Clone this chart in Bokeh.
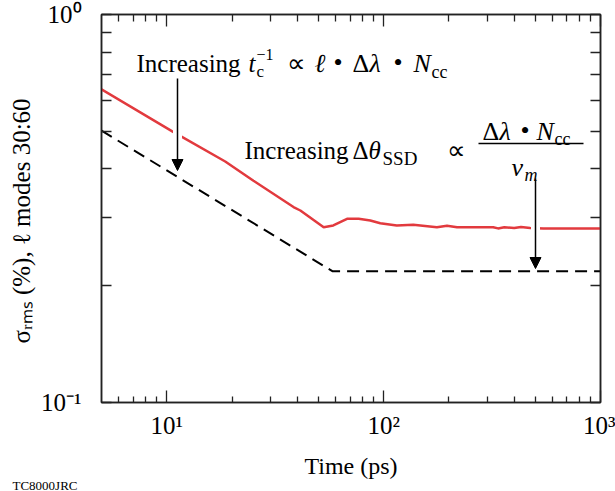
import math
from bokeh.plotting import figure
from bokeh.models import Range1d, LogAxis, FixedTicker, Label, Arrow, NormalHead, Title
from bokeh.embed import file_html
from bokeh.resources import INLINE

# ---------------- data ----------------
time_sim = [5.0, 10.6, 18.6, 25.1, 38.4, 41.3, 52.9, 58.6, 67.8, 76.7, 86.8, 96.5,
            115, 137, 176, 196, 218, 320, 337, 360, 400, 430, 474, 545, 1000]
sigma_sim = [0.641, 0.500, 0.418, 0.373, 0.319, 0.3125, 0.283, 0.286, 0.2975, 0.2975,
             0.2944, 0.2898, 0.2858, 0.287, 0.283, 0.2855, 0.283, 0.283, 0.281, 0.283,
             0.2815, 0.2835, 0.2818, 0.281, 0.281]
time_model = [5.0, 58.0, 1000.0]
sigma_model = [0.502, 0.218, 0.218]

x_major = [10, 100, 1000]
x_minor = [6, 7, 8, 9, 20, 30, 40, 50, 60, 70, 80, 90, 200, 300, 400, 500, 600, 700, 800, 900]
y_major = [0.1, 1.0]
y_minor = [0.2, 0.3, 0.4, 0.5, 0.6, 0.7, 0.8, 0.9]
x_tick_labels = ["10\u00b9", "10\u00b2", "10\u00b3"]
y_tick_labels = ["10\u207b\u00b9", "10\u2070"]
x_title = "Time (ps)"
y_title = "\u03c3\u1d63\u2098\u209b (%), \u2113 modes 30:60\u00a0\u00a0\u00a0\u00a0"
credit = "TC8000JRC"

XLO, XHI = 5.0, 1000.0
YLO, YHI = 0.1, 1.0

# frame in canvas pixels
FX0, FX1, FY0, FY1 = 101, 600, 14, 402
W, H = 615, 491
FONT = "Liberation Serif"

p = figure(width=W, height=H, x_axis_type="log", y_axis_type="log",
           x_range=Range1d(XLO, XHI), y_range=Range1d(YLO, YHI),
           output_backend="svg", toolbar_location=None,
           min_border_left=FX0, min_border_right=W - FX1,
           min_border_top=FY0, min_border_bottom=H - FY1)
p.grid.visible = False
p.background_fill_color = "white"
p.border_fill_color = "white"
p.outline_line_color = "#222222"
p.outline_line_width = 1.5


def px2x(px):
    lo, hi = math.log10(XLO), math.log10(XHI)
    return 10 ** (lo + (px - FX0) / (FX1 - FX0) * (hi - lo))


def py2y(py):
    lo, hi = math.log10(YLO), math.log10(YHI)
    return 10 ** (lo + (FY1 - py) / (FY1 - FY0) * (hi - lo))


def style_axis(ax, ticks, minors, major_in, minor_in, labels=None, standoff=0):
    ax.ticker = FixedTicker(ticks=ticks, minor_ticks=minors)
    ax.major_tick_in = major_in
    ax.major_tick_out = 0
    ax.minor_tick_in = minor_in
    ax.minor_tick_out = 0
    ax.axis_line_color = "#222222"
    ax.axis_line_width = 1.5
    ax.major_tick_line_color = "#222222"
    ax.major_tick_line_width = 1.3
    ax.minor_tick_line_color = "#222222"
    ax.minor_tick_line_width = 1.3
    if labels is None:
        ax.major_label_text_font_size = "2px"
        ax.major_label_text_alpha = 0.0
        ax.major_label_standoff = 0
    else:
        ax.major_label_overrides = {float(t): s for t, s in zip(ticks, labels)}
        ax.major_label_text_font = FONT
        ax.major_label_text_font_size = "25px"
        ax.major_label_text_color = "black"
        ax.major_label_standoff = standoff


xa = p.xaxis[0]
style_axis(xa, x_major, x_minor, 12, 6, x_tick_labels, 9)
xa.axis_label = x_title
xa.axis_label_text_font = FONT
xa.axis_label_text_font_size = "24px"
xa.axis_label_text_font_style = "normal"
xa.axis_label_text_color = "black"
xa.axis_label_standoff = 11

ya = p.yaxis[0]
style_axis(ya, y_major, y_minor, 10, 10, y_tick_labels, 20)
ya.axis_label = y_title
ya.axis_label_text_font = FONT
ya.axis_label_text_font_size = "25px"
ya.axis_label_text_font_style = "normal"
ya.axis_label_text_color = "black"
ya.axis_label_standoff = 3

top = LogAxis()
style_axis(top, x_major, x_minor, 12, 7)
p.add_layout(top, "above")
right = LogAxis()
style_axis(right, y_major, y_minor, 10, 10)
p.add_layout(right, "right")

credit_title = Title(text=credit, align="left", offset=-89,
                     text_font=FONT, text_font_size="13px", text_font_style="normal",
                     text_color="black")
try:
    credit_title.standoff = -12
except Exception:
    credit_title.standoff = 0
p.add_layout(credit_title, "below")

# ---------------- lines ----------------
p.line(time_model, sigma_model, line_color="black", line_width=2, line_dash="12 7")
p.line(time_sim, sigma_sim, line_color="#e23a3e", line_width=2.5)


def txt(px, py, s, size=25, style="normal", align="left", angle=0.0):
    p.add_layout(Label(x=px2x(px), y=py2y(py), text=s, text_font=FONT,
                       text_font_size=f"{size}px", text_font_style=style,
                       text_align=align, text_baseline="alphabetic",
                       text_color="black", angle=angle))


def seg(px0, py0, px1, py1, color="black", width=1.5, head=None):
    p.add_layout(Arrow(x_start=px2x(px0), y_start=py2y(py0), x_end=px2x(px1), y_end=py2y(py1),
                       line_color=color, line_width=width, end=head))


# arrows with white backing (gap in the red curve)
a1x = 177
a2x = 535
seg(a1x, 118, a1x, 146, color="white", width=9)
seg(a2x, 216, a2x, 240, color="white", width=9)
seg(a1x, 78, a1x, 170, head=NormalHead(size=11, fill_color="black", line_color="black", line_width=1))
seg(a2x, 178, a2x, 268, head=NormalHead(size=11, fill_color="black", line_color="black", line_width=1))

# annotation line 1
b1 = 63
txt(136, b1, "Increasing")
txt(248, b1, "t", style="italic")
txt(256, b1 + 8, "c", 17)
txt(256, b1 - 9, "\u22121", 16)
txt(286, b1, "\u221d", 26)
txt(314, b1, "\u2113", 26, style="italic")
txt(333, b1 - 1, "\u2022", 26)
txt(352, b1, "\u0394", 26)
txt(369, b1, "\u03bb", 26, style="italic")
txt(393, b1 - 1, "\u2022", 26)
txt(413, b1, "N", 26, style="italic")
txt(431, b1 + 8, "cc", 18)

# annotation line 2
b2 = 150
txt(244, b2, "Increasing")
txt(352, b2, "\u0394")
txt(368, b2, "\u03b8", style="italic")
txt(382, b2 + 8, "SSD", 19)
txt(446, b2, "\u221d", 26)
bn = 131
txt(482, bn, "\u0394", 26)
txt(499, bn, "\u03bb", 26, style="italic")
txt(520, bn - 1, "\u2022", 26)
txt(536, bn, "N", 26, style="italic")
txt(554, bn + 7, "cc", 18)
seg(478, 143, 583, 143, width=1.3)
txt(511, 167, "\u03bd", 26, style="italic")
txt(524, 174, "m", 18, style="italic")

open("out.html", "w").write(file_html(p, INLINE))
